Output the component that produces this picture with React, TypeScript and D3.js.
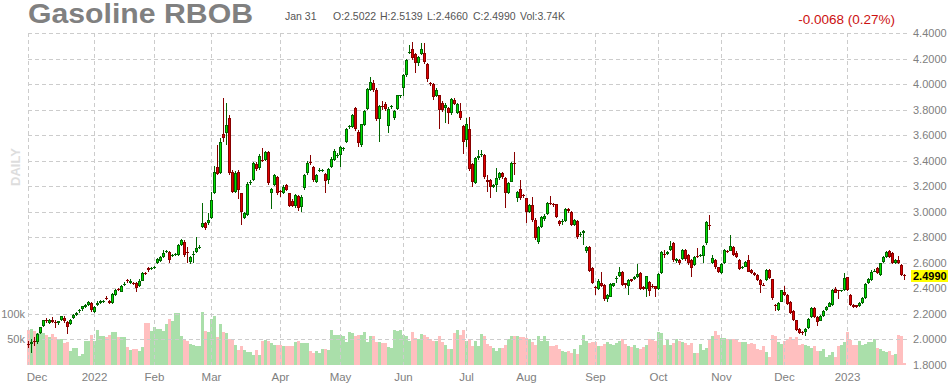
import { useEffect, useRef } from 'react';
import * as d3 from 'd3';

// open, high, low, close
type Bar = [number, number, number, number];

const dec2021: Bar[] = [
  [1.965, 1.99, 1.93, 1.955], [1.96, 2.0, 1.89, 1.975], [1.985, 2.02, 1.95, 1.975], [1.975, 2.05, 1.965, 2.045],
  [2.05, 2.1, 2.04, 2.095], [2.105, 2.155, 2.1, 2.15], [2.155, 2.165, 2.13, 2.14], [2.13, 2.16, 2.12, 2.15],
  [2.155, 2.175, 2.13, 2.135], [2.135, 2.15, 2.09, 2.13], [2.125, 2.145, 2.115, 2.14], [2.15, 2.185, 2.145, 2.18],
  [2.17, 2.18, 2.13, 2.14], [2.135, 2.14, 2.04, 2.1], [2.12, 2.16, 2.11, 2.155], [2.165, 2.195, 2.16, 2.19],
  [2.19, 2.215, 2.18, 2.21], [2.225, 2.24, 2.21, 2.23], [2.235, 2.265, 2.225, 2.26], [2.255, 2.275, 2.245, 2.27],
  [2.27, 2.3, 2.265, 2.29], [2.285, 2.29, 2.215, 2.23],
];
const jan2022: Bar[] = [
  [2.217, 2.265, 2.21, 2.256], [2.267, 2.3, 2.26, 2.288], [2.282, 2.31, 2.275, 2.303], [2.292, 2.31, 2.285, 2.297],
  [2.325, 2.34, 2.305, 2.32], [2.303, 2.31, 2.275, 2.282], [2.282, 2.36, 2.275, 2.356], [2.348, 2.395, 2.34, 2.387],
  [2.395, 2.405, 2.375, 2.39], [2.374, 2.425, 2.37, 2.418], [2.43, 2.45, 2.42, 2.434], [2.462, 2.47, 2.44, 2.458],
  [2.444, 2.47, 2.435, 2.46], [2.44, 2.45, 2.425, 2.437], [2.444, 2.45, 2.374, 2.4], [2.418, 2.47, 2.41, 2.46],
  [2.46, 2.525, 2.455, 2.518], [2.52, 2.53, 2.505, 2.516], [2.562, 2.57, 2.53, 2.544], [2.552, 2.565, 2.545, 2.557],
];
const feb2022: Bar[] = [
  [2.56, 2.575, 2.55, 2.565], [2.596, 2.635, 2.59, 2.627], [2.617, 2.655, 2.61, 2.648], [2.648, 2.7, 2.64, 2.68],
  [2.685, 2.7, 2.675, 2.69], [2.688, 2.695, 2.601, 2.622], [2.655, 2.67, 2.645, 2.659], [2.665, 2.68, 2.655, 2.669],
  [2.661, 2.745, 2.655, 2.74], [2.74, 2.79, 2.735, 2.779], [2.766, 2.775, 2.648, 2.661], [2.682, 2.727, 2.6, 2.678],
  [2.609, 2.655, 2.588, 2.648], [2.667, 2.695, 2.595, 2.672], [2.688, 2.805, 2.68, 2.714], [2.72, 2.74, 2.71, 2.725],
  [2.884, 3.067, 2.875, 2.915], [2.91, 2.92, 2.858, 2.871], [2.91, 2.988, 2.9, 2.936],
];
const mar2022: Bar[] = [
  [2.949, 3.158, 2.94, 3.093], [3.15, 3.359, 3.14, 3.315], [3.354, 3.524, 3.289, 3.297], [3.307, 3.58, 3.3, 3.55],
  [3.61, 3.89, 3.55, 3.576], [3.616, 3.85, 3.524, 3.681], [3.733, 3.757, 3.29, 3.302], [3.315, 3.33, 3.145, 3.158],
  [3.158, 3.32, 3.15, 3.307], [3.315, 3.33, 3.1, 3.171], [3.145, 3.15, 2.897, 3.001], [2.949, 3.0, 2.94, 2.988],
  [2.975, 3.23, 2.97, 3.218], [3.232, 3.25, 3.21, 3.237], [3.25, 3.39, 3.24, 3.38], [3.375, 3.39, 3.32, 3.333],
  [3.341, 3.45, 3.33, 3.438], [3.41, 3.5, 3.39, 3.405], [3.407, 3.48, 3.4, 3.472], [3.472, 3.48, 3.21, 3.224],
  [3.145, 3.19, 3.02, 3.176], [3.21, 3.3, 3.2, 3.289], [3.276, 3.28, 3.135, 3.15],
];
const apr2022: Bar[] = [
  [3.16, 3.17, 3.12, 3.158], [3.15, 3.21, 3.14, 3.197], [3.21, 3.22, 3.16, 3.171], [3.145, 3.15, 3.04, 3.048],
  [3.088, 3.1, 3.035, 3.046], [3.048, 3.14, 3.03, 3.132], [3.127, 3.135, 3.01, 3.027], [3.041, 3.13, 3.0, 3.119],
  [3.184, 3.3, 3.17, 3.289], [3.302, 3.4, 3.29, 3.386], [3.39, 3.446, 3.37, 3.386], [3.349, 3.36, 3.23, 3.25],
  [3.237, 3.3, 3.225, 3.289], [3.325, 3.34, 3.315, 3.33], [3.322, 3.335, 3.31, 3.326], [3.297, 3.305, 3.15, 3.244],
  [3.25, 3.34, 3.22, 3.333], [3.349, 3.43, 3.34, 3.412], [3.407, 3.49, 3.4, 3.48], [3.444, 3.46, 3.42, 3.448],
];
const may2022: Bar[] = [
  [3.446, 3.52, 3.349, 3.506], [3.496, 3.51, 3.48, 3.5], [3.55, 3.66, 3.54, 3.652], [3.666, 3.68, 3.65, 3.67],
  [3.668, 3.77, 3.66, 3.757], [3.812, 3.82, 3.63, 3.647], [3.629, 3.64, 3.506, 3.542], [3.524, 3.69, 3.51, 3.686],
  [3.681, 3.8, 3.67, 3.791], [3.809, 3.97, 3.8, 3.961], [3.956, 4.06, 3.95, 4.021], [4.013, 4.03, 3.94, 3.956],
  [3.956, 3.97, 3.71, 3.726], [3.726, 3.84, 3.55, 3.83], [3.827, 3.87, 3.8, 3.825], [3.846, 3.86, 3.79, 3.804],
  [3.673, 3.82, 3.62, 3.809], [3.822, 3.84, 3.81, 3.826], [3.733, 3.8, 3.72, 3.791], [3.804, 3.92, 3.8, 3.914],
  [3.909, 3.92, 3.895, 3.913],
];
const jun2022: Bar[] = [
  [3.969, 4.08, 3.911, 4.07], [4.073, 4.2, 4.06, 4.191], [4.249, 4.308, 4.24, 4.253], [4.274, 4.33, 4.19, 4.204],
  [4.238, 4.245, 4.09, 4.17], [4.17, 4.225, 4.14, 4.217], [4.238, 4.321, 4.23, 4.274], [4.243, 4.321, 4.16, 4.178],
  [4.159, 4.165, 4.02, 4.039], [4.01, 4.02, 3.99, 4.005], [4.0, 4.01, 3.88, 3.898], [3.909, 3.97, 3.9, 3.956],
  [3.914, 3.92, 3.647, 3.799], [3.856, 3.87, 3.78, 3.799], [3.812, 3.85, 3.7, 3.838], [3.812, 3.82, 3.69, 3.773],
  [3.773, 3.89, 3.76, 3.882], [3.877, 3.89, 3.835, 3.846], [3.778, 3.85, 3.77, 3.846], [3.793, 3.85, 3.72, 3.733],
  [3.673, 3.68, 3.454, 3.55],
];
const jul2022: Bar[] = [
  [3.563, 3.733, 3.51, 3.686], [3.652, 3.746, 3.32, 3.333], [3.375, 3.38, 3.197, 3.237], [3.229, 3.43, 3.22, 3.42],
  [3.42, 3.485, 3.41, 3.44], [3.452, 3.485, 3.43, 3.456], [3.446, 3.45, 3.26, 3.271], [3.25, 3.289, 3.153, 3.237],
  [3.252, 3.26, 3.106, 3.197], [3.197, 3.22, 3.19, 3.21], [3.21, 3.341, 3.158, 3.263], [3.263, 3.31, 3.25, 3.302],
  [3.302, 3.31, 3.26, 3.276], [3.268, 3.275, 3.027, 3.15], [3.15, 3.23, 3.14, 3.224], [3.237, 3.39, 3.23, 3.386],
  [3.38, 3.472, 3.289, 3.375], [3.111, 3.16, 3.08, 3.153], [3.176, 3.25, 3.09, 3.106], [3.132, 3.14, 3.11, 3.127],
];
const aug2022: Bar[] = [
  [3.106, 3.11, 2.915, 3.001], [3.001, 3.06, 2.99, 3.054], [3.054, 3.119, 2.92, 2.936], [2.936, 2.95, 2.78, 2.792],
  [2.766, 2.89, 2.75, 2.884], [2.884, 2.965, 2.87, 2.957], [2.94, 2.98, 2.93, 2.97], [2.98, 3.08, 2.975, 3.067],
  [3.07, 3.124, 3.05, 3.064], [3.061, 3.07, 3.04, 3.054], [3.061, 3.065, 2.95, 2.957], [2.928, 2.935, 2.89, 2.905],
  [2.92, 2.94, 2.9, 2.93], [2.931, 3.03, 2.92, 3.022], [3.022, 3.03, 2.99, 3.01], [3.001, 3.01, 2.89, 2.897],
  [2.897, 2.945, 2.89, 2.936], [2.928, 2.935, 2.79, 2.805], [2.82, 2.84, 2.8, 2.826], [2.831, 2.86, 2.74, 2.85],
  [2.69, 2.73, 2.68, 2.724], [2.727, 2.735, 2.53, 2.539], [2.557, 2.565, 2.43, 2.44],
];
const sep2022: Bar[] = [
  [2.413, 2.42, 2.348, 2.408], [2.392, 2.47, 2.385, 2.46], [2.439, 2.531, 2.41, 2.418], [2.426, 2.43, 2.3, 2.314],
  [2.314, 2.355, 2.295, 2.348], [2.335, 2.44, 2.33, 2.434], [2.418, 2.445, 2.41, 2.439], [2.476, 2.5, 2.44, 2.478],
  [2.499, 2.565, 2.49, 2.526], [2.531, 2.535, 2.42, 2.426], [2.439, 2.445, 2.4, 2.426], [2.418, 2.47, 2.348, 2.465],
  [2.471, 2.475, 2.45, 2.46], [2.471, 2.5, 2.465, 2.491], [2.486, 2.591, 2.48, 2.512], [2.523, 2.53, 2.385, 2.392],
  [2.413, 2.42, 2.385, 2.392], [2.392, 2.5, 2.33, 2.497], [2.452, 2.46, 2.34, 2.382], [2.42, 2.43, 2.4, 2.418],
  [2.418, 2.42, 2.335, 2.392],
];
const oct2022: Bar[] = [
  [2.392, 2.52, 2.385, 2.512], [2.523, 2.69, 2.515, 2.682], [2.672, 2.7, 2.64, 2.669], [2.669, 2.695, 2.66, 2.688],
  [2.7, 2.774, 2.69, 2.732], [2.753, 2.76, 2.61, 2.622], [2.617, 2.64, 2.6, 2.63], [2.622, 2.63, 2.585, 2.596],
  [2.627, 2.71, 2.62, 2.701], [2.701, 2.71, 2.615, 2.627], [2.661, 2.67, 2.58, 2.596], [2.622, 2.63, 2.491, 2.557],
  [2.583, 2.655, 2.575, 2.648], [2.65, 2.714, 2.635, 2.648], [2.655, 2.67, 2.645, 2.659], [2.654, 2.74, 2.6, 2.732],
  [2.753, 2.93, 2.74, 2.923], [2.9, 2.975, 2.86, 2.897], [2.601, 2.66, 2.59, 2.635], [2.622, 2.63, 2.555, 2.565],
  [2.565, 2.57, 2.52, 2.531],
];
const nov2022: Bar[] = [
  [2.518, 2.6, 2.51, 2.591], [2.596, 2.71, 2.59, 2.701], [2.69, 2.7, 2.675, 2.688], [2.695, 2.818, 2.69, 2.732],
  [2.727, 2.735, 2.65, 2.661], [2.68, 2.69, 2.64, 2.648], [2.622, 2.63, 2.54, 2.549], [2.563, 2.575, 2.555, 2.566],
  [2.57, 2.615, 2.565, 2.609], [2.622, 2.661, 2.525, 2.531], [2.544, 2.55, 2.515, 2.523], [2.523, 2.53, 2.495, 2.505],
  [2.505, 2.51, 2.455, 2.465], [2.465, 2.47, 2.361, 2.426], [2.428, 2.44, 2.415, 2.425], [2.465, 2.55, 2.46, 2.544],
  [2.544, 2.55, 2.47, 2.478], [2.471, 2.475, 2.31, 2.322], [2.27, 2.28, 2.22, 2.268], [2.23, 2.29, 2.22, 2.282],
  [2.295, 2.39, 2.29, 2.387],
];
const dec2022: Bar[] = [
  [2.374, 2.418, 2.34, 2.348], [2.348, 2.355, 2.27, 2.277], [2.295, 2.3, 2.195, 2.204], [2.225, 2.23, 2.145, 2.152],
  [2.152, 2.155, 2.065, 2.073], [2.081, 2.09, 2.045, 2.052], [2.058, 2.065, 2.034, 2.055], [2.06, 2.085, 2.026, 2.078],
  [2.086, 2.165, 2.08, 2.157], [2.173, 2.255, 2.165, 2.248], [2.243, 2.25, 2.165, 2.173], [2.178, 2.185, 2.105, 2.139],
  [2.146, 2.19, 2.14, 2.183], [2.183, 2.23, 2.175, 2.222], [2.23, 2.265, 2.225, 2.256], [2.256, 2.295, 2.25, 2.288],
  [2.269, 2.395, 2.265, 2.387], [2.392, 2.413, 2.36, 2.366], [2.384, 2.39, 2.314, 2.381], [2.38, 2.39, 2.37, 2.383],
  [2.387, 2.518, 2.38, 2.478],
];
const jan2023: Bar[] = [
  [2.486, 2.49, 2.38, 2.387], [2.348, 2.355, 2.26, 2.269], [2.269, 2.275, 2.245, 2.256], [2.266, 2.27, 2.245, 2.251],
  [2.261, 2.295, 2.255, 2.288], [2.288, 2.33, 2.28, 2.322], [2.322, 2.44, 2.315, 2.434], [2.439, 2.48, 2.43, 2.471],
  [2.465, 2.54, 2.46, 2.531], [2.537, 2.555, 2.525, 2.539], [2.557, 2.565, 2.51, 2.518], [2.505, 2.6, 2.5, 2.596],
  [2.609, 2.65, 2.6, 2.643], [2.648, 2.695, 2.64, 2.688], [2.695, 2.7, 2.64, 2.648], [2.68, 2.685, 2.59, 2.596],
  [2.596, 2.63, 2.59, 2.622], [2.622, 2.654, 2.59, 2.596], [2.583, 2.59, 2.5, 2.505], [2.5022, 2.5139, 2.466, 2.499],
];

// volume, thousands of contracts
const volDec2021 = [69, 71, 66, 62, 67, 62, 59, 54, 61, 54, 50, 50, 42, 45, 28, 33, 33, 17, 21, 47, 47, 59];
const volJan2022 = [47, 69, 57, 57, 54, 59, 65, 65, 54, 54, 54, 34, 29, 31, 31, 28, 34, 82, 82, 67];
const volFeb2022 = [75, 70, 71, 67, 80, 90, 85, 102, 102, 57, 48, 46, 41, 38, 36, 36, 103, 67, 65];
const volMar2022 = [90, 95, 54, 80, 65, 62, 50, 49, 39, 29, 36, 29, 26, 26, 19, 29, 19, 47, 49, 46, 42, 39, 39];
const volApr2022 = [39, 37, 37, 37, 37, 44, 47, 43, 43, 43, 27, 23, 28, 23, 31, 31, 29, 69, 59, 59];
const volMay2022 = [59, 57, 44, 64, 62, 57, 59, 59, 64, 44, 56, 56, 44, 44, 42, 42, 35, 33, 68, 67, 68];
const volJun2022 = [59, 56, 46, 64, 52, 50, 61, 59, 55, 50, 46, 46, 57, 44, 39, 31, 31, 62, 69, 59, 69];
const volJul2022 = [46, 50, 37, 46, 37, 61, 56, 40, 37, 33, 28, 33, 33, 39, 50, 57, 57, 56, 54, 54];
const volAug2022 = [52, 50, 44, 39, 57, 46, 57, 46, 36, 36, 39, 31, 28, 26, 28, 23, 31, 21, 39, 59, 46, 42, 44];
const volSep2022 = [44, 36, 37, 40, 44, 40, 38, 42, 46, 50, 40, 37, 35, 38, 33, 31, 35, 38, 50, 50, 46];
const volOct2022 = [64, 62, 39, 50, 39, 42, 50, 47, 45, 42, 39, 42, 23, 23, 41, 29, 32, 50, 57, 66, 59];
const volNov2022 = [52, 52, 50, 50, 50, 50, 44, 44, 44, 41, 42, 41, 31, 29, 37, 26, 16, 59, 56, 45, 41];
const volDec2022 = [46, 50, 55, 50, 55, 39, 40, 39, 37, 33, 37, 28, 28, 31, 16, 20, 26, 16, 37, 39, 45];
const volJan2023 = [64, 49, 39, 39, 46, 39, 41, 44, 44, 50, 33, 31, 28, 26, 28, 19, 21, 59, 56, 3.74];

const holidays = [
  '2021-12-24', '2022-01-17', '2022-02-21', '2022-04-15', '2022-05-30', '2022-06-20',
  '2022-07-04', '2022-09-05', '2022-11-24', '2022-12-26', '2023-01-02', '2023-01-16',
];

const priceTicks = [4.4, 4.2, 4.0, 3.8, 3.6, 3.4, 3.2, 3.0, 2.8, 2.6, 2.4, 2.2, 2.0, 1.8];
const volumeTicks = [50000, 100000];
const volumeTickLabels = ['50k', '100k'];
const quoteItems = ['Jan 31', 'O:2.5022', 'H:2.5139', 'L:2.4660', 'C:2.4990', 'Vol:3.74K'];
const lastPrice = 2.499;

const FONT = 'Liberation Sans, Arial, sans-serif';

function App() {
  const ref = useRef<SVGSVGElement>(null);
  const width = 951;
  const height = 385;

  useEffect(() => {
    const svg = d3.select(ref.current);
    svg.selectAll('*').remove();

    const bars = [
      ...dec2021, ...jan2022, ...feb2022, ...mar2022, ...apr2022, ...may2022, ...jun2022,
      ...jul2022, ...aug2022, ...sep2022, ...oct2022, ...nov2022, ...dec2022, ...jan2023,
    ];
    const volume = [
      ...volDec2021, ...volJan2022, ...volFeb2022, ...volMar2022, ...volApr2022, ...volMay2022, ...volJun2022,
      ...volJul2022, ...volAug2022, ...volSep2022, ...volOct2022, ...volNov2022, ...volDec2022, ...volJan2023,
    ].map((v) => v * 1000);

    const parse = d3.utcParse('%Y-%m-%d');
    const fmt = d3.utcFormat('%Y-%m-%d');
    const days = d3.utcDay
      .range(parse('2021-12-01')!, parse('2023-02-01')!)
      .filter((d) => d.getUTCDay() % 6 !== 0 && !holidays.includes(fmt(d)));

    const n = bars.length;
    const x = d3.scalePoint<number>().domain(d3.range(n)).range([28, 904]);
    const y = d3.scaleLinear().domain([1.8, 4.4]).range([364.8, 33.3]);
    const yv = d3.scaleLinear().domain([0, 100000]).range([364.8, 313.8]);

    const monthStarts = d3.range(days.length).filter(
      (i) => i === 0 || days[i].getUTCMonth() !== days[i - 1].getUTCMonth(),
    );

    const up = (i: number) => bars[i][3] >= bars[i][0];

    // volume
    svg.append('g')
      .attr('shape-rendering', 'crispEdges')
      .selectAll('rect')
      .data(volume)
      .enter()
      .append('rect')
      .attr('x', (d, i) => x(i)! - 1)
      .attr('width', 3)
      .attr('y', (d) => Math.round(yv(d)))
      .attr('height', (d) => Math.max(0, Math.round(yv(0)) - Math.round(yv(d))))
      .attr('fill', (d, i) => (up(i) ? '#aadfaa' : '#ffbfbf'));

    // grid
    const grid = svg.append('g')
      .attr('stroke', '#cccccc')
      .attr('stroke-width', 1)
      .attr('stroke-dasharray', '4,3')
      .attr('shape-rendering', 'crispEdges');

    grid.selectAll('line.h')
      .data(priceTicks.filter((t) => t > 1.8))
      .enter()
      .append('line')
      .attr('class', 'h')
      .attr('x1', 28)
      .attr('x2', 907)
      .attr('y1', (d) => Math.round(y(d)) + 0.5)
      .attr('y2', (d) => Math.round(y(d)) + 0.5);

    grid.selectAll('line.v')
      .data(monthStarts)
      .enter()
      .append('line')
      .attr('class', 'v')
      .attr('x1', (d) => x(d)! + 0.5)
      .attr('x2', (d) => x(d)! + 0.5)
      .attr('y1', 33)
      .attr('y2', 365);

    // candles
    const candles = svg.append('g')
      .attr('shape-rendering', 'crispEdges')
      .selectAll('g')
      .data(bars)
      .enter()
      .append('g');

    candles.append('line')
      .attr('x1', (d, i) => x(i)! + 0.5)
      .attr('x2', (d, i) => x(i)! + 0.5)
      .attr('y1', (d) => Math.round(y(d[1])))
      .attr('y2', (d) => Math.round(y(d[2])))
      .attr('stroke', (d, i) => (up(i) ? '#006600' : '#880000'));

    const bodyTop = (d: Bar) => Math.round(y(Math.max(d[0], d[3])));
    const bodyH = (d: Bar) => Math.max(1, Math.round(y(Math.min(d[0], d[3]))) - bodyTop(d));

    candles.append('rect')
      .attr('x', (d, i) => x(i)! - 1)
      .attr('width', 3)
      .attr('y', (d) => bodyTop(d))
      .attr('height', (d) => bodyH(d))
      .attr('fill', (d, i) => (up(i) ? '#006600' : '#880000'));

    candles.filter((d) => bodyH(d) > 2)
      .append('rect')
      .attr('x', (d) => x(bars.indexOf(d))!)
      .attr('width', 1)
      .attr('y', (d) => bodyTop(d) + 1)
      .attr('height', (d) => bodyH(d) - 2)
      .attr('fill', (d) => (d[3] >= d[0] ? '#00e000' : '#e00000'));

    // right price axis
    svg.append('g')
      .selectAll('text')
      .data(priceTicks)
      .enter()
      .append('text')
      .attr('x', 913)
      .attr('y', (d) => y(d))
      .attr('dy', '0.35em')
      .attr('font-family', FONT)
      .attr('font-size', 11)
      .attr('fill', '#808080')
      .text((d) => d3.format('.4f')(d));

    // last price tag
    svg.append('rect')
      .attr('x', 911)
      .attr('y', Math.round(y(lastPrice)) - 6)
      .attr('width', 37)
      .attr('height', 12)
      .attr('fill', '#ffff00');
    svg.append('text')
      .attr('x', 913)
      .attr('y', y(lastPrice))
      .attr('dy', '0.35em')
      .attr('font-family', FONT)
      .attr('font-size', 11)
      .attr('font-weight', 'bold')
      .attr('fill', '#000')
      .text(d3.format('.4f')(lastPrice));

    // volume axis
    svg.append('g')
      .selectAll('text')
      .data(volumeTicks)
      .enter()
      .append('text')
      .attr('x', 25)
      .attr('y', (d) => yv(d))
      .attr('dy', '0.35em')
      .attr('text-anchor', 'end')
      .attr('font-family', FONT)
      .attr('font-size', 11)
      .attr('fill', '#808080')
      .text((d, i) => volumeTickLabels[i]);

    // month labels
    const monthFmt = d3.utcFormat('%b');
    const yearFmt = d3.utcFormat('%Y');
    svg.append('g')
      .selectAll('text')
      .data(monthStarts)
      .enter()
      .append('text')
      .attr('x', (d) => Math.max(37, x(d)! + 0.5))
      .attr('y', 381)
      .attr('text-anchor', 'middle')
      .attr('font-family', FONT)
      .attr('font-size', 11.5)
      .attr('fill', '#808080')
      .text((d) => (days[d].getUTCMonth() === 0 ? yearFmt(days[d]) : monthFmt(days[d])));

    // header
    svg.append('text')
      .attr('x', 28)
      .attr('y', 23)
      .attr('font-family', FONT)
      .attr('font-size', 27)
      .attr('font-weight', 'bold')
      .attr('fill', '#808080')
      .attr('textLength', 225)
      .attr('lengthAdjust', 'spacingAndGlyphs')
      .text('Gasoline RBOB');

    const quoteX = [285, 333, 380, 427, 473, 520];
    svg.append('g')
      .selectAll('text')
      .data(quoteItems)
      .enter()
      .append('text')
      .attr('x', (d, i) => quoteX[i])
      .attr('y', 20)
      .attr('font-family', FONT)
      .attr('font-size', 10.5)
      .attr('fill', '#555555')
      .text((d) => d);

    svg.append('text')
      .attr('x', 895)
      .attr('y', 24)
      .attr('text-anchor', 'end')
      .attr('font-family', FONT)
      .attr('font-size', 13.5)
      .attr('fill', '#cc1111')
      .text('-0.0068 (0.27%)');

    svg.append('text')
      .attr('transform', 'translate(20,167) rotate(-90)')
      .attr('text-anchor', 'middle')
      .attr('font-family', FONT)
      .attr('font-size', 13)
      .attr('font-weight', 'bold')
      .attr('fill', '#dddddd')
      .text('DAILY');
  }, []);

  return (
    <svg
      ref={ref}
      width={width}
      height={height}
      style={{ position: 'absolute', left: 0, top: 0, background: '#fff' }}
    />
  );
}

export default App;
